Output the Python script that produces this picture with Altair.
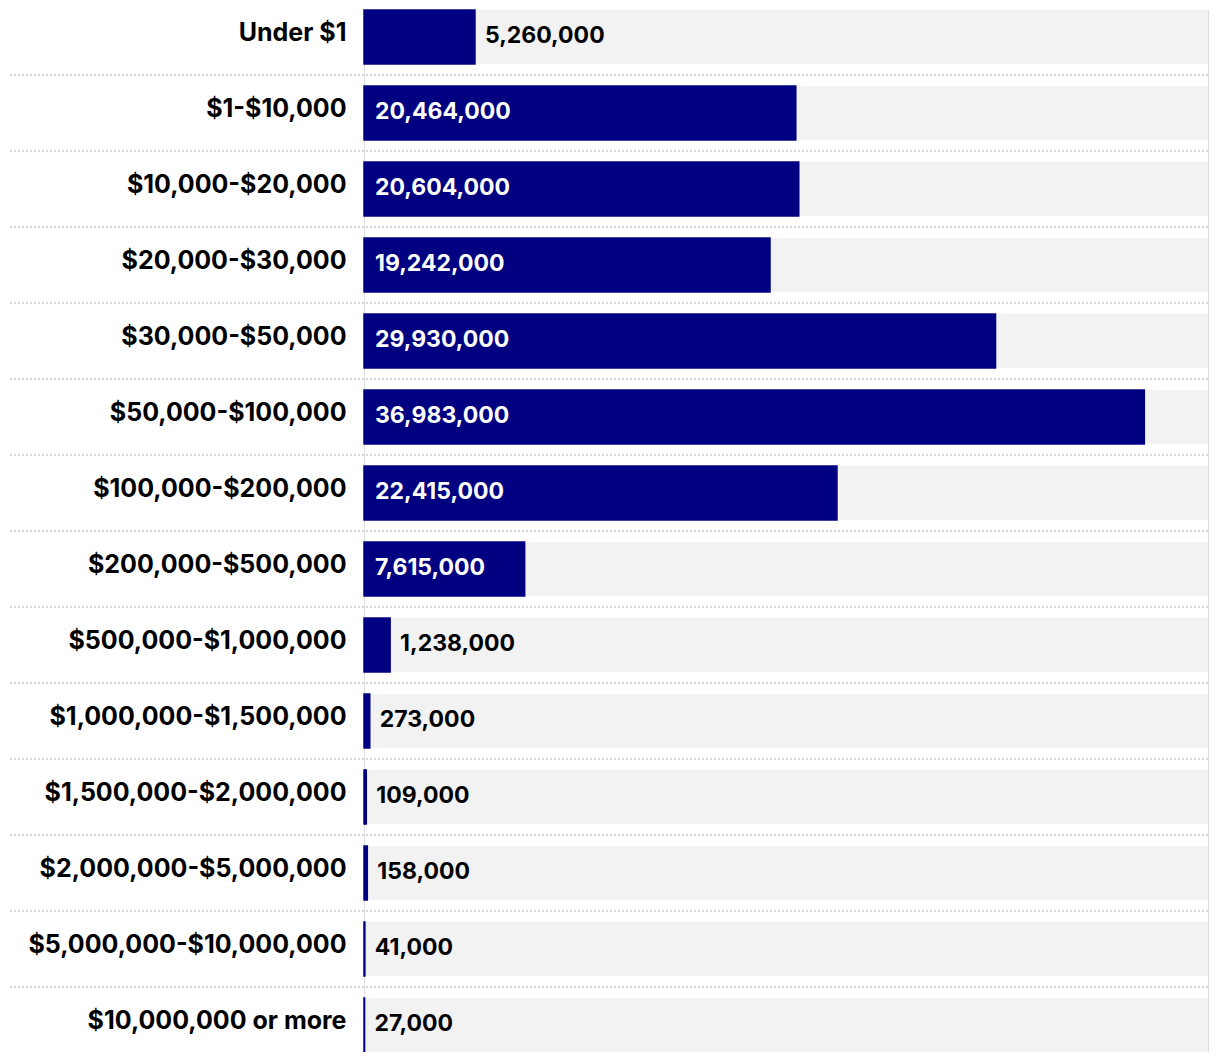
import altair as alt
import pandas as pd

categories = [
    "Under $1", "$1-$10,000", "$10,000-$20,000", "$20,000-$30,000",
    "$30,000-$50,000", "$50,000-$100,000", "$100,000-$200,000",
    "$200,000-$500,000", "$500,000-$1,000,000", "$1,000,000-$1,500,000",
    "$1,500,000-$2,000,000", "$2,000,000-$5,000,000",
    "$5,000,000-$10,000,000", "$10,000,000 or more",
]
values = [5260000, 20464000, 20604000, 19242000, 29930000, 36983000,
          22415000, 7615000, 1238000, 273000, 109000, 158000, 41000, 27000]

df = pd.DataFrame({"cat": categories, "value": values})
df["order"] = range(len(df))
df["label"] = [f"{v:,}" for v in values]

FONT = "Inter"
NAVY = "#000080"
XMAX = 40000000

xscale = alt.Scale(domain=[0, XMAX], nice=False, zero=True)
yenc = alt.Y("cat:N", sort=categories,
             scale=alt.Scale(paddingInner=22 / 76, paddingOuter=0),
             axis=alt.Axis(title=None, ticks=False, domain=False, grid=False,
                           labelFont=FONT, labelFontSize=25, labelFontWeight="bold",
                           labelColor="#000000", labelPadding=18, labelAlign="right",
                           labelOffset=-4, labelLimit=400))

base = alt.Chart(df)

bg = base.transform_calculate(zero="0", full=str(XMAX)).mark_bar(color="#f2f2f2").encode(
    x=alt.X("zero:Q", scale=xscale, axis=None),
    x2="full:Q",
    y=yenc,
)

bars = base.mark_bar(color=NAVY, stroke=NAVY, strokeWidth=1.5).encode(
    x=alt.X("value:Q", scale=xscale, axis=None),
    y=yenc,
)

seps = base.transform_filter(alt.datum.order < len(categories) - 1).mark_rule(
    color="#d6d6d6", strokeWidth=2, strokeDash=[2, 2], yOffset=11
).encode(
    y=alt.Y("cat:N", sort=categories, bandPosition=1),
    x=alt.value(-354),
    x2=alt.value(844),
)

inside = base.transform_filter(alt.datum.value > 6000000).transform_calculate(
    zero="0").mark_text(
    align="left", baseline="middle", dx=11, dy=-1, font=FONT, fontSize=23,
    fontWeight="bold", color="#ffffff"
).encode(
    x=alt.X("zero:Q", scale=xscale, axis=None),
    y=yenc,
    text="label:N",
)

outside = base.transform_filter(alt.datum.value <= 6000000).mark_text(
    align="left", baseline="middle", dx=10, dy=-1, font=FONT, fontSize=23,
    fontWeight="bold", color="#000000"
).encode(
    x=alt.X("value:Q", scale=xscale, axis=None),
    y=yenc,
    text="label:N",
)

chart = alt.layer(bg, seps, bars, inside, outside).properties(
    width=844, height=1042,
    autosize=alt.AutoSizeParams(type="none"),
    padding={"left": 356, "top": 2, "right": 4, "bottom": 0},
).configure_view(stroke=None).configure(background="#ffffff")

chart.save("out.html", embed_options={"renderer": "svg", "actions": False})
